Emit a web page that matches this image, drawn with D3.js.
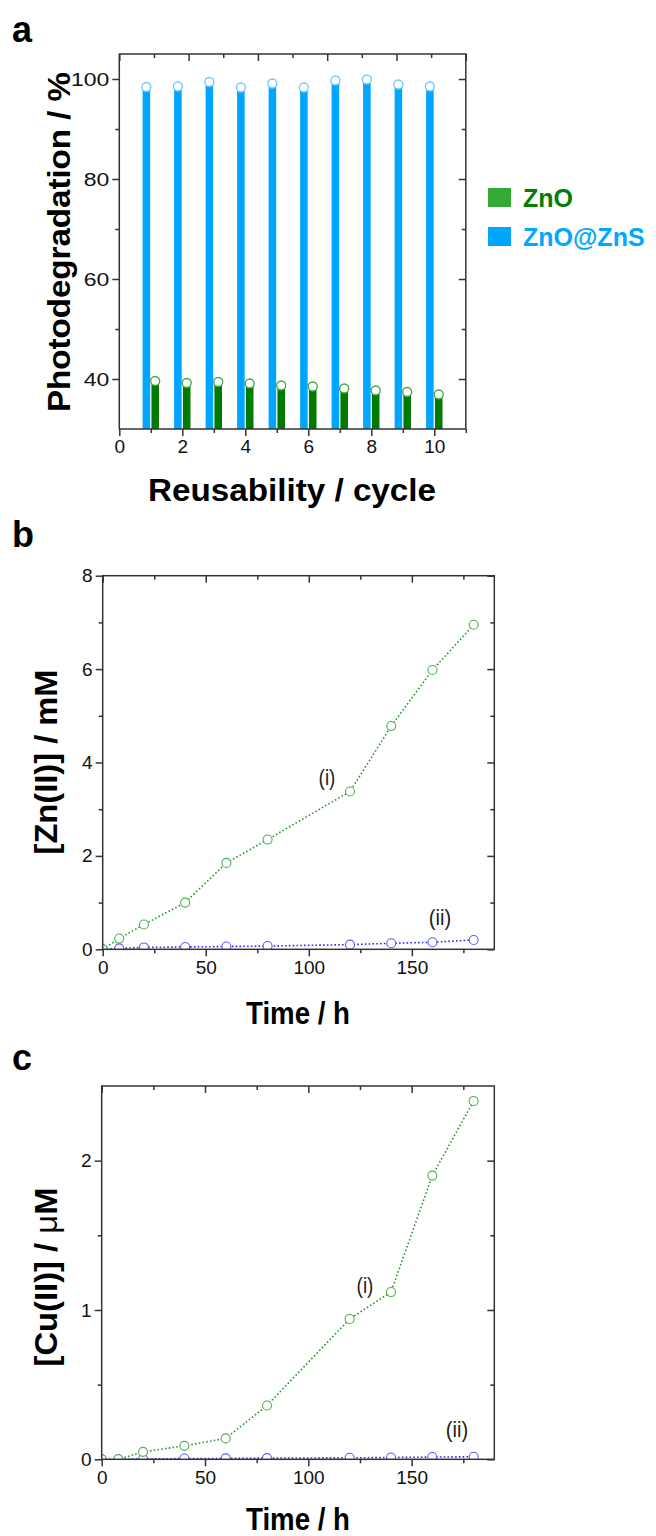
<!DOCTYPE html>
<html>
<head>
<meta charset="utf-8">
<script src="https://cdn.jsdelivr.net/npm/d3@7"></script>
<style>
  body { margin: 0; background: #fff; }
  svg { display: block; font-family: "Liberation Sans", Arial, sans-serif; }
</style>
</head>
<body>
<div id="chart"></div>
<script>
// panel a data
const cycles = [1, 2, 3, 4, 5, 6, 7, 8, 9, 10];
const znoDeg = [39.6, 39.2, 39.4, 39.1, 38.7, 38.5, 38.1, 37.7, 37.4, 36.9];
const znsDeg = [98.4, 98.5, 99.4, 98.3, 99.1, 98.3, 99.7, 99.9, 98.9, 98.5];
const degTicks = [40, 60, 80, 100];
const cycleTicks = [0, 2, 4, 6, 8, 10];

// panel b / c data
const hours = [0, 8, 20, 40, 60, 80, 120, 140, 160, 180];
const znZnO = [0, 0.23, 0.53, 1.0, 1.85, 2.35, 3.38, 4.78, 5.98, 6.95];
const znZnS = [0, 0.02, 0.04, 0.05, 0.06, 0.07, 0.10, 0.13, 0.15, 0.20];
const cuZnO = [0, 0.0, 0.05, 0.09, 0.14, 0.36, 0.94, 1.12, 1.90, 2.40];
const cuZnS = [0, 0.0, 0.002, 0.005, 0.006, 0.008, 0.010, 0.012, 0.015, 0.017];
const timeTicks = [0, 50, 100, 150];

const blue = "#00a5ff", green = "#007a00";
const lineGreen = "#2a9a2a", lineBlue = "#2b2bf0";
const axisCol = "#333";

const svg = d3.select("#chart").append("svg")
    .attr("width", 656)
    .attr("height", 1536);

function frame(g, x0, x1, y0, y1) {
    g.append("rect")
        .attr("x", x0).attr("y", y0)
        .attr("width", x1 - x0).attr("height", y1 - y0)
        .attr("fill", "none").attr("stroke", axisCol).attr("stroke-width", 1.5);
}

function styleAxis(g) {
    g.select(".domain").remove();
    g.selectAll("line").attr("stroke", axisCol).attr("stroke-width", 1.5);
    g.selectAll("text").attr("fill", "#111");
}

// ticks on all four sides; labels only on left and bottom
function axes(g, x, xTop, y, xMaj, xMin, xTopMaj, xTopMin, yMaj, yMin, fs, yStretch) {
    const [x0, x1] = x.range();
    const [yb, yt] = y.range();
    const fmt = d3.format("~g");
    const left = g.append("g").attr("transform", `translate(${x0},0)`)
        .call(d3.axisLeft(y).tickValues(yMaj).tickFormat(fmt).tickSize(7).tickPadding(3));
    left.selectAll("text").style("font-size", fs + "px");
    if (yStretch) {
        left.selectAll("text")
            .attr("textLength", d => String(d).length * yStretch)
            .attr("lengthAdjust", "spacingAndGlyphs");
    }
    styleAxis(left);
    const leftMin = g.append("g").attr("transform", `translate(${x0},0)`)
        .call(d3.axisLeft(y).tickValues(yMin).tickSize(4).tickFormat(""));
    styleAxis(leftMin);

    const right = g.append("g").attr("transform", `translate(${x1},0)`)
        .call(d3.axisLeft(y).tickValues(yMaj).tickSize(7).tickFormat(""));
    styleAxis(right);
    const rightMin = g.append("g").attr("transform", `translate(${x1},0)`)
        .call(d3.axisLeft(y).tickValues(yMin).tickSize(4).tickFormat(""));
    styleAxis(rightMin);

    const bottom = g.append("g").attr("transform", `translate(0,${yb})`)
        .call(d3.axisBottom(x).tickValues(xMaj).tickFormat(fmt).tickSize(7).tickPadding(4));
    bottom.selectAll("text").style("font-size", fs + "px");
    styleAxis(bottom);
    const bottomMin = g.append("g").attr("transform", `translate(0,${yb})`)
        .call(d3.axisBottom(x).tickValues(xMin).tickSize(4).tickFormat(""));
    styleAxis(bottomMin);

    const top = g.append("g").attr("transform", `translate(0,${yt})`)
        .call(d3.axisBottom(xTop).tickValues(xTopMaj).tickSize(7).tickFormat(""));
    styleAxis(top);
    const topMin = g.append("g").attr("transform", `translate(0,${yt})`)
        .call(d3.axisBottom(xTop).tickValues(xTopMin).tickSize(4).tickFormat(""));
    styleAxis(topMin);

    frame(g, x0, x1, yt, yb);
}

function panelLetter(txt, x, y) {
    svg.append("text").attr("x", x).attr("y", y)
        .attr("font-weight", "bold").attr("font-size", 36)
        .text(txt);
}

function yTitle(parts, x, cy, len) {
    const t = svg.append("text")
        .attr("transform", `translate(${x},${cy}) rotate(-90)`)
        .attr("text-anchor", "middle")
        .attr("font-weight", "bold").attr("font-size", 32)
        .attr("textLength", len).attr("lengthAdjust", "spacingAndGlyphs");
    parts.forEach(p => {
        t.append("tspan").attr("font-weight", p.w || "bold").text(p.t);
    });
}

function xTitle(txt, cx, y, len) {
    svg.append("text").attr("x", cx).attr("y", y)
        .attr("text-anchor", "middle")
        .attr("font-weight", "bold").attr("font-size", 32)
        .attr("textLength", len).attr("lengthAdjust", "spacingAndGlyphs")
        .text(txt);
}

// ---------- panel a ----------
{
    const g = svg.append("g");
    const x = d3.scaleLinear().domain([0, 11]).range([119.3, 465.8]);
    const xTop = d3.scaleLinear().domain([0, 10]).range([119.3, 465.8]);
    const y = d3.scaleLinear().domain([30, 105]).range([429, 54]);
    const bw = x(0.24) - x(0);

    const bars = g.append("g");
    bars.selectAll(".zns").data(cycles).enter().append("rect")
        .attr("x", (d) => x(d - 0.14) - bw / 2)
        .attr("y", (d, i) => y(znsDeg[i]))
        .attr("width", bw)
        .attr("height", (d, i) => y(30) - y(znsDeg[i]))
        .attr("fill", blue);
    bars.selectAll(".zno").data(cycles).enter().append("rect")
        .attr("x", (d) => x(d + 0.14) - bw / 2)
        .attr("y", (d, i) => y(znoDeg[i]))
        .attr("width", bw)
        .attr("height", (d, i) => y(30) - y(znoDeg[i]))
        .attr("fill", green);
    bars.selectAll(".znsDot").data(cycles).enter().append("circle")
        .attr("cx", d => x(d - 0.14))
        .attr("cy", (d, i) => y(znsDeg[i]))
        .attr("r", 4.5)
        .attr("fill", "#fff").attr("stroke", "#6cc8ff").attr("stroke-width", 1.3);
    bars.selectAll(".znoDot").data(cycles).enter().append("circle")
        .attr("cx", d => x(d + 0.14))
        .attr("cy", (d, i) => y(znoDeg[i]))
        .attr("r", 4.5)
        .attr("fill", "#fff").attr("stroke", "#3aa83a").attr("stroke-width", 1.3);

    axes(g, x, xTop, y, cycleTicks, [1, 3, 5, 7, 9, 11], [0, 2, 4, 6, 8, 10], [1, 3, 5, 7, 9],
        degTicks, [50, 70, 90], 19, 12.8);

    // legend
    const legend = [
        {name: "ZnO", box: "#33aa33", text: "#008000", y: 188},
        {name: "ZnO@ZnS", box: blue, text: "#00a8ff", y: 227}
    ];
    legend.forEach(l => {
        svg.append("rect").attr("x", 488).attr("y", l.y)
            .attr("width", 23).attr("height", 19).attr("fill", l.box);
        svg.append("text").attr("x", 523).attr("y", l.y + 19)
            .attr("font-weight", "bold").attr("font-size", 25)
            .attr("fill", l.text).text(l.name);
    });

    panelLetter("a", 12, 42);
    yTitle([{t: "Photodegradation / %"}], 70, 242, 340);
    xTitle("Reusability / cycle", 292, 501, 288);
}

// ---------- line panels ----------
function linePanel(opt) {
    const g = svg.append("g");
    const x = d3.scaleLinear().domain([0, 190]).range(opt.xr);
    const y = d3.scaleLinear().domain(opt.yd).range(opt.yr);
    const clipId = "clip" + opt.id;
    svg.append("clipPath").attr("id", clipId).append("rect")
        .attr("x", opt.xr[0]).attr("y", opt.yr[1])
        .attr("width", opt.xr[1] - opt.xr[0]).attr("height", opt.yr[0] - opt.yr[1]);
    const plot = g.append("g").attr("clip-path", `url(#${clipId})`);

    const series = [
        {vals: opt.s2, line: lineBlue, dot: "#5a5aff"},
        {vals: opt.s1, line: lineGreen, dot: "#4caf4c"}
    ];
    series.forEach(s => {
        const pts = hours.map((h, i) => [h, s.vals[i]]);
        plot.append("path").datum(pts)
            .attr("d", d3.line().x(d => x(d[0])).y(d => y(d[1])))
            .attr("fill", "none").attr("stroke", s.line)
            .attr("stroke-width", 1.6).attr("stroke-dasharray", "1.6,2.2");
        plot.selectAll(null).data(pts).enter().append("circle")
            .attr("cx", d => x(d[0])).attr("cy", d => y(d[1]))
            .attr("r", 4.5)
            .attr("fill", "#fff").attr("stroke", s.dot).attr("stroke-width", 1.1);
    });

    axes(g, x, x, y, timeTicks, [25, 75, 125, 175], [0, 50, 100, 150], [25, 75, 125, 175],
        opt.yMaj, opt.yMin, 19, 0);

    opt.notes.forEach(n => {
        svg.append("text").attr("x", n.x).attr("y", n.y)
            .attr("text-anchor", "middle").attr("font-size", 22)
            .attr("fill", "#222")
            .attr("textLength", n.t.length * 5.6).attr("lengthAdjust", "spacingAndGlyphs")
            .text(n.t);
    });
}

linePanel({
    id: "b", xr: [102.7, 494.3], yd: [0, 8], yr: [949.3, 575.7],
    s1: znZnO, s2: znZnS, yMaj: [0, 2, 4, 6, 8], yMin: [1, 3, 5, 7],
    notes: [{t: "(i)", x: 327, y: 785}, {t: "(ii)", x: 440, y: 925}]
});
panelLetter("b", 12, 547);
yTitle([{t: "[Zn(II)] / mM"}], 57, 762, 185);
xTitle("Time / h", 298, 1024, 104);

linePanel({
    id: "c", xr: [101.7, 494.3], yd: [0, 2.5], yr: [1459.3, 1086],
    s1: cuZnO, s2: cuZnS, yMaj: [0, 1, 2], yMin: [0.5, 1.5],
    notes: [{t: "(i)", x: 365, y: 1293}, {t: "(ii)", x: 457, y: 1437}]
});
panelLetter("c", 12, 1070);
yTitle([{t: "[Cu(II)] / "}, {t: "μ", w: "normal"}, {t: "M"}], 57, 1277, 179);
xTitle("Time / h", 298, 1530, 104);
</script>
</body>
</html>
